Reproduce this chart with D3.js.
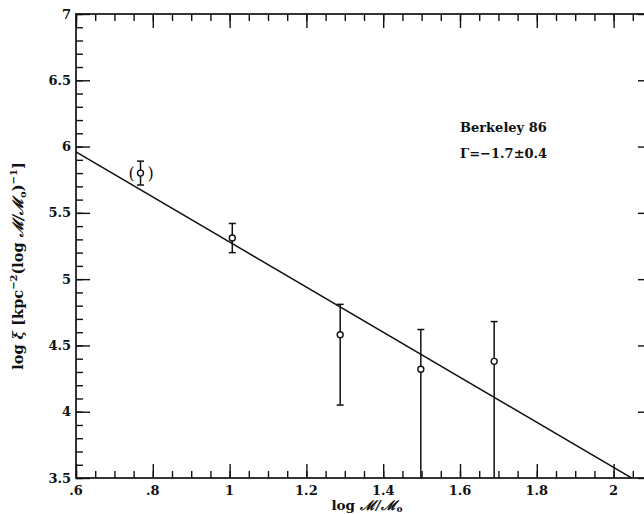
<!DOCTYPE html>
<html>
<head>
<meta charset="utf-8">
<script src="https://cdn.jsdelivr.net/npm/d3@7"></script>
<style>
  html, body { margin: 0; padding: 0; background: #fff; }
  svg text { font-family: "DejaVu Serif", "Liberation Serif", serif; fill: #111; }
</style>
</head>
<body>
<svg id="chart" width="644" height="514"></svg>
<script>
// Cluster mass-function points (log M/Msun vs log xi) with asymmetric error bars
const logMass   = [0.768, 1.007, 1.288, 1.498, 1.689];
const logXi     = [5.80, 5.31, 4.58, 4.32, 4.38];
const logXiHigh = [5.89, 5.42, 4.81, 4.62, 4.68];
const logXiLow  = [5.71, 5.20, 4.05, 3.30, 3.30];
const bracketed = [true, false, false, false, false];

// Power-law fit: log xi = intercept + slope * log M
const fitSlope = -1.7;
const fitIntercept = 6.98;

const xTickMajor = [0.6, 0.8, 1.0, 1.2, 1.4, 1.6, 1.8, 2.0];
const xTickLabels = [".6", ".8", "1", "1.2", "1.4", "1.6", "1.8", "2"];
const yTickMajor = [3.5, 4, 4.5, 5, 5.5, 6, 6.5, 7];
const yTickLabels = ["3.5", "4", "4.5", "5", "5.5", "6", "6.5", "7"];

const svg = d3.select("#chart");
const plotLeft = 76, plotTop = 14, plotRight = 652, plotBottom = 478;

const x = d3.scaleLinear().domain([0.6, 2.1]).range([plotLeft, plotRight]);
const y = d3.scaleLinear().domain([3.5, 7]).range([plotBottom, plotTop]);

const xMinor = d3.range(0.6, 2.1001, 0.05).map(v => +v.toFixed(2));
const yMinor = d3.range(3.5, 7.0001, 0.1).map(v => +v.toFixed(1));

const MAJ = 14, MIN = 7;

// Frame axes with inward ticks on all four sides
function frameAxis(axisGen, tr) {
  const g = svg.append("g").attr("transform", tr).call(axisGen);
  g.select(".domain").remove();
  g.selectAll("line").attr("stroke", "#111").attr("stroke-width", 1.4);
  g.selectAll("text").remove();
  return g;
}

const tickSet = (gen, vals, len) => gen.tickValues(vals).tickSizeInner(-len).tickSizeOuter(0);

frameAxis(tickSet(d3.axisBottom(x), xMinor, MIN), `translate(0,${plotBottom})`);
frameAxis(tickSet(d3.axisBottom(x), xTickMajor, MAJ), `translate(0,${plotBottom})`);
frameAxis(tickSet(d3.axisTop(x), xMinor, MIN), `translate(0,${plotTop})`);
frameAxis(tickSet(d3.axisTop(x), xTickMajor, MAJ), `translate(0,${plotTop})`);
frameAxis(tickSet(d3.axisLeft(y), yMinor, MIN), `translate(${plotLeft},0)`);
frameAxis(tickSet(d3.axisLeft(y), yTickMajor, MAJ), `translate(${plotLeft},0)`);
frameAxis(tickSet(d3.axisRight(y), yMinor, MIN), `translate(${plotRight},0)`);
frameAxis(tickSet(d3.axisRight(y), yTickMajor, MAJ), `translate(${plotRight},0)`);

svg.append("rect")
  .attr("x", plotLeft).attr("y", plotTop)
  .attr("width", plotRight - plotLeft).attr("height", plotBottom - plotTop)
  .attr("fill", "none").attr("stroke", "#111").attr("stroke-width", 1.7);

// Tick labels
svg.append("g").selectAll("text").data(xTickMajor).join("text")
  .attr("x", d => x(d)).attr("y", plotBottom + 17)
  .attr("text-anchor", "middle").attr("font-size", 13).attr("font-weight", "bold")
  .text((d, i) => xTickLabels[i]);

svg.append("g").selectAll("text").data(yTickMajor).join("text")
  .attr("x", plotLeft - 5).attr("y", d => y(d)).attr("dy", "0.35em")
  .attr("text-anchor", "end").attr("font-size", 13).attr("font-weight", "bold")
  .text((d, i) => yTickLabels[i]);

// Axis titles
const xt = svg.append("text").attr("x", 367).attr("y", 510)
  .attr("text-anchor", "middle").attr("font-size", 13.5).attr("font-weight", "bold");
xt.append("tspan").text("log ");
xt.append("tspan").attr("font-style", "italic").text("ℳ/ℳ");
xt.append("tspan").attr("font-size", 9).attr("dy", 2).text("o");

const yt = svg.append("text")
  .attr("transform", `translate(23,266) rotate(-90)`)
  .attr("text-anchor", "middle").attr("font-size", 14.5).attr("font-weight", "bold");
yt.append("tspan").text("log ");
yt.append("tspan").attr("font-style", "italic").text("ξ");
yt.append("tspan").text(" [kpc");
yt.append("tspan").attr("font-size", 10).attr("dy", -6).text("−2");
yt.append("tspan").attr("dy", 6).text("(log ");
yt.append("tspan").attr("font-style", "italic").text("ℳ/ℳ");
yt.append("tspan").attr("font-size", 10).attr("dy", 3).text("o");
yt.append("tspan").attr("dy", -3).text(")");
yt.append("tspan").attr("font-size", 10).attr("dy", -6).text("−1");
yt.append("tspan").attr("dy", 6).text("]");

// Plot contents clipped to the frame
svg.append("defs").append("clipPath").attr("id", "plotClip")
  .append("rect").attr("x", plotLeft).attr("y", plotTop)
  .attr("width", plotRight - plotLeft).attr("height", plotBottom - plotTop);
const plot = svg.append("g").attr("clip-path", "url(#plotClip)");

// Fit line
const fitX = [0.6, 2.1];
plot.append("path")
  .datum(fitX)
  .attr("d", d3.line().x(d => x(d)).y(d => y(fitIntercept + fitSlope * d)))
  .attr("fill", "none").attr("stroke", "#111").attr("stroke-width", 1.5);

const pts = logMass.map((m, i) => ({
  m, v: logXi[i], hi: logXiHigh[i], lo: logXiLow[i], br: bracketed[i]
}));

// Error bars
const eb = plot.append("g").attr("stroke", "#111").attr("stroke-width", 1.5);
eb.selectAll(".bar").data(pts).join("line")
  .attr("x1", d => x(d.m)).attr("x2", d => x(d.m))
  .attr("y1", d => y(d.hi)).attr("y2", d => y(d.lo));
eb.selectAll(".capHi").data(pts).join("line")
  .attr("x1", d => x(d.m) - 3.5).attr("x2", d => x(d.m) + 3.5)
  .attr("y1", d => y(d.hi)).attr("y2", d => y(d.hi));
eb.selectAll(".capLo").data(pts).join("line")
  .attr("x1", d => x(d.m) - 3.5).attr("x2", d => x(d.m) + 3.5)
  .attr("y1", d => y(d.lo)).attr("y2", d => y(d.lo));

// Open circle markers
plot.append("g").selectAll("circle").data(pts).join("circle")
  .attr("cx", d => x(d.m)).attr("cy", d => y(d.v)).attr("r", 3)
  .attr("fill", "#fff").attr("stroke", "#111").attr("stroke-width", 1.4);

// Parentheses around the uncertain point
const brPts = pts.filter(d => d.br);
plot.append("g").selectAll("text").data(brPts).join("text")
  .attr("x", d => x(d.m) - 9).attr("y", d => y(d.v)).attr("dy", "0.35em")
  .attr("text-anchor", "middle").attr("font-size", 16).text("(");
plot.append("g").selectAll("text").data(brPts).join("text")
  .attr("x", d => x(d.m) + 10).attr("y", d => y(d.v)).attr("dy", "0.35em")
  .attr("text-anchor", "middle").attr("font-size", 16).text(")");

// Annotation
svg.append("text").attr("x", 460).attr("y", 132)
  .attr("font-size", 13).attr("font-weight", "bold").text("Berkeley 86");
svg.append("text").attr("x", 460).attr("y", 158)
  .attr("font-size", 13).attr("font-weight", "bold").text("Γ=−1.7±0.4");
</script>
</body>
</html>
